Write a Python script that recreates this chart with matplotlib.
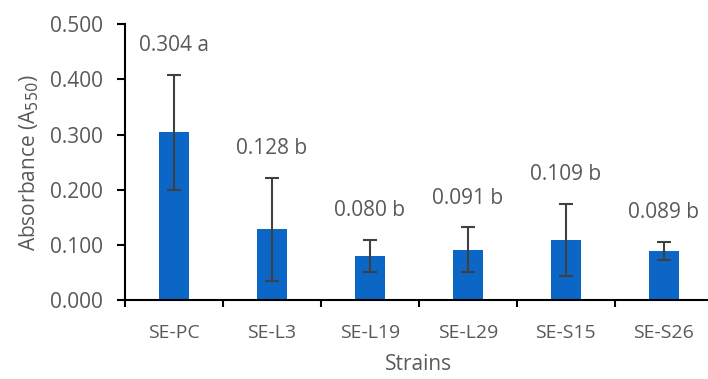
import matplotlib.pyplot as plt
import numpy as np
from matplotlib.ticker import FormatStrFormatter

# DATA
strains = ['SE-PC', 'SE-L3', 'SE-L19', 'SE-L29', 'SE-S15', 'SE-S26']
absorbance = [0.304, 0.128, 0.080, 0.091, 0.109, 0.089]
errors = [0.104, 0.094, 0.029, 0.041, 0.066, 0.016]
groups = ['a', 'b', 'b', 'b', 'b', 'b']

plt.rcParams['font.family'] = ['Open Sans', 'DejaVu Sans']
text_color = '#595959'
fs = 15

fig = plt.figure(figsize=(7.08, 3.79), dpi=100)
ax = fig.add_axes([0.1766, 0.2084, 0.830, 0.7275])

x = np.arange(len(strains))
ax.bar(x, absorbance, width=0.31, color='#0B66C6', zorder=2)
ax.errorbar(x, absorbance, yerr=errors, fmt='none', ecolor='#404040',
            elinewidth=1.5, capsize=4.7, capthick=1.5, zorder=3)

# LABELS ABOVE BARS
for xi, val, err, grp in zip(x, absorbance, errors, groups):
    ax.annotate('%.3f %s' % (val, grp), xy=(xi, val + err), xytext=(0, 21),
                textcoords='offset points', ha='center', va='center',
                fontsize=fs, color=text_color, annotation_clip=False)

# AXES
ax.set_xlim(-0.5, len(strains) - 0.5)
ax.set_ylim(0, 0.5)
ax.set_yticks(np.arange(0, 0.501, 0.1))
ax.yaxis.set_major_formatter(FormatStrFormatter('%.3f'))
ax.set_xticks(x)
ax.set_xticklabels(strains)
ax.set_xticks(np.arange(-0.5, len(strains), 1.0), minor=True)
ax.tick_params(axis='x', which='major', length=0, pad=17, labelsize=fs - 1, labelcolor=text_color)
ax.tick_params(axis='x', which='minor', length=5, width=1.5, direction='out')
ax.tick_params(axis='y', length=6, width=1.5, direction='out', pad=10,
               labelsize=fs, labelcolor=text_color)

for side in ['top', 'right']:
    ax.spines[side].set_visible(False)
for side in ['left', 'bottom']:
    ax.spines[side].set_linewidth(1.5)
    ax.spines[side].set_color('black')

ax.set_xlabel('Strains', fontsize=fs, color=text_color, labelpad=9)
ax.set_ylabel('Absorbance (A$_{550}$)', fontsize=fs, color=text_color, labelpad=6)

fig.savefig('out.png', dpi=100)
